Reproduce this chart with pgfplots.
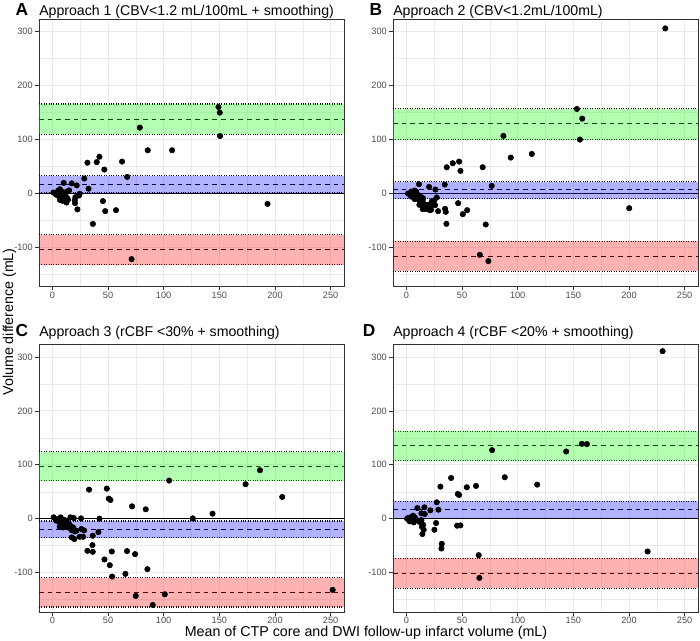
\documentclass[border=0pt]{standalone}
\usepackage{pgfplots}
\pgfplotsset{compat=1.18}
\usepackage{fontspec}
\setmainfont{Liberation Sans}
\definecolor{gridc}{HTML}{EBEBEB}
\definecolor{borderc}{HTML}{333333}
\definecolor{tickc}{HTML}{4D4D4D}
\tikzset{
  zl/.style={black,line width=0.55pt},
  dl/.style={black,line width=0.55pt,dash pattern=on 3.5pt off 3pt},
  dt/.style={black,line width=0.8pt,dash pattern=on 0.75pt off 1.05pt}
}
\pgfplotsset{panel/.style={
  scale only axis, width=228.75pt, height=200.625pt, anchor=south west,
  xmin=-12, xmax=262, ymin=-173, ymax=323,
  xtick={0,50,100,150,200,250}, ytick={-100,0,100,200,300},
  minor xtick={25,75,125,175,225}, minor ytick={-150,-50,50,150,250},
  grid=both,
  major grid style={draw=gridc, line width=0.6pt},
  minor grid style={draw=gridc, line width=0.35pt},
  axis line style={draw=borderc, line width=0.5pt},
  tick align=outside, xtick pos=bottom, ytick pos=left,
  major tick length=3pt, minor tick length=0pt,
  tick style={draw=borderc, line width=0.5pt},
  every tick label/.append style={font=\fontsize{6.9}{8}\selectfont, text=tickc},
  /pgf/number format/assume math mode=true,
  xticklabel style={inner sep=0.8pt}, yticklabel style={inner sep=1.5pt},
}}
\newcommand{\hl}[2]{\addplot[#1] coordinates {(-12,#2) (262,#2)};}
\newcommand{\band}[3]{\addplot[draw=none, fill=#1, fill opacity=0.3] coordinates {(-12,#2) (262,#2) (262,#3) (-12,#3)};}
\newcommand{\lines}[9]{%
  \hl{zl}{0}%
  \hl{dl}{#3}\hl{dt}{#1}\hl{dt}{#2}%
  \hl{dl}{#6}\hl{dt}{#4}\hl{dt}{#5}%
  \hl{dl}{#9}\hl{dt}{#7}\hl{dt}{#8}}
\newcommand{\bands}[6]{\band{green}{#1}{#2}\band{blue}{#3}{#4}\band{red}{#5}{#6}}
\tikzset{pts/.style={only marks, mark=*, mark size=2.05pt, black}}
\begin{document}
\begin{tikzpicture}
\useasboundingbox (0,0) rectangle (525pt,480pt);
% ---------------- A
\begin{axis}[panel, at={(29.25pt,265.125pt)}]
\lines{109.3}{165.4}{137.7}{0.5}{32.7}{16.7}{-132.7}{-77.2}{-104.3}
\addplot[pts] coordinates {
(149.2,159.9) (150.4,149.4) (150.7,106) (78.6,121.6) (85.7,79.6) (107.6,79.6)
(42.3,67.6) (31.5,56.5) (39.9,57.7) (62.6,58.6) (46.7,43.8) (67.2,30.2)
(28.7,27.2) (10.2,19.1) (17.4,18.2) (21.9,14.5) (32.5,8.3) (15.0,5.2)
(6.8,7.4) (5.3,4.9) (8.3,3.1) (0.9,1.2) (2.4,0) (3.8,-3.1) (9.8,-3.1)
(11.2,-6.2) (6.8,-12.3) (9.2,-14.2) (12.7,-17.3) (13.3,-9.3) (20.7,-7.4)
(23.9,-4.3) (24.5,-1.2) (20.1,-13) (20.4,-18.5) (22.5,-30) (45.4,-14.6)
(47.5,-33.3) (57.2,-31.5) (36.4,-57) (71.2,-122.2) (193.3,-19.8)
(3,-1.5) (4.5,2) (7.5,-8) (10.5,-10) (12,-5) (14,-12) (5.5,-5) (8,-1) (11.5,0.5) (13,3)
};
\bands{109.3}{165.4}{0.5}{32.7}{-132.7}{-77.2}
\end{axis}
% ---------------- B
\begin{axis}[panel, at={(294.75pt,265.125pt)}]
\lines{99.4}{156.8}{129}{-10.5}{21.6}{6.2}{-145}{-88.9}{-116.7}
\addplot[pts] coordinates {
(232.6,305.6) (153.2,156.2) (158,138.3) (155.9,99.4) (87.2,106.2) (93.8,66)
(112.7,72.8) (36.3,48.1) (41.7,55.6) (47.4,58.6) (48.6,41.4) (68.6,48.1)
(76.7,13.6) (11.4,16.7) (34.5,16) (20.4,11.7) (26.1,6.8) (27.3,-8) (25.2,-13)
(25.8,-22.2) (21.3,-31.5) (28.5,-33.3) (34.8,-29) (35.4,-34.6) (36,-56.8)
(46.5,-18.5) (50.7,-38.9) (54.6,-31.5) (71.3,-58) (66,-114.2) (73.7,-125.9)
(200.2,-27.8)
(1.5,-0.6) (2.7,-0.6) (4.5,3) (5.7,1.2) (7.5,4.9) (8.7,3.1) (9,1.2) (4.2,-6.2)
(5.4,-6.2) (7.2,-6.2) (7.5,-11.1) (10.2,-3.1) (11.7,-9.3) (12,-14.8) (13.5,-11)
(14.7,-12.3) (13.2,-18.5) (15.6,-19.8) (16.2,-21.6) (17.7,-24.7) (18,-23.5)
(19.2,-21.6) (19.5,-28.4) (20.7,-27.8) (17.7,-29.6) (22.2,-30.9) (23.7,-21.6)
(22.8,-15.4) (14.7,-29.6) (11.7,-21.6) (16.5,-27.8) (12.6,-6.2) (15,-9.3)
};
\bands{99.4}{156.8}{-10.5}{21.6}{-145}{-88.9}
\end{axis}
% ---------------- C
\begin{axis}[panel, at={(29.25pt,21pt)}]
\lines{70.7}{124}{97.3}{-35.3}{-4.3}{-19.2}{-163.7}{-109.7}{-136.4}
\addplot[pts] coordinates {
(186.5,89.9) (173.6,63.9) (206.5,40.3) (104.9,70.7) (143.9,9.3) (126.2,0.6)
(83.9,17.4) (71.6,22.9) (33,53.9) (48.9,55.8) (50.7,37.2) (52.2,34.7) (42.3,0)
(25.8,0.6) (16.2,2.5) (19.2,1.2) (7.5,2.5) (1.2,2.5) (28.5,-21.7) (41.4,-24.8)
(36.3,-31.6) (36,-49) (36.3,-61.4) (31.5,-59.5) (53.4,-60.8) (67.1,-60.1)
(74.3,-65.7) (46.8,-75.6) (51.6,-86.2) (53.7,-107.3) (65.6,-102.3) (85.4,-93.6)
(74.9,-143.2) (101,-140.1) (90.2,-160) (251.8,-132)
(3.6,-3.7) (6.6,-6.8) (8.1,-11.8) (9.6,-6.8) (11.1,-13) (12.6,-9.9) (14.1,-16.1)
(15.6,-11.2) (17.1,-21.1) (18.6,-16.1) (20.1,-23.6) (21.6,-22.3) (17.4,-34.7)
(19.8,-37.8) (24.6,-33.5) (27.6,-33.5) (26.1,-19.2) (9.6,-16.1) (6.6,-14.9)
(4.5,-1) (10.5,-2) (13,-5)
};
\bands{70.7}{124}{-35.3}{-4.3}{-163.7}{-109.7}
\end{axis}
% ---------------- D
\begin{axis}[panel, at={(294.75pt,21pt)}]
\lines{107.9}{161.8}{135.2}{1.2}{32.2}{17.4}{-129}{-73.2}{-101}
\addplot[pts] coordinates {
(230.2,310.6) (157.7,138.9) (162.2,138.3) (143.6,124.6) (77,127.1) (88.4,76.9)
(117.5,63.2) (40.2,75.5) (30.6,59.5) (54.3,58.3) (62.6,60.8) (46.2,45.9)
(47.4,44) (27.3,30.4) (28.8,16.7) (21.6,15.5) (16.2,21.1) (9.9,19.8) (16.5,8.7)
(13.5,9.9) (26.7,-8.1) (25.2,-20.5) (15.6,-20.5) (15,-11.2) (14.4,-28.5)
(31.8,-46.5) (31.5,-55.2) (45.6,-13) (48.6,-12.4) (65,-67.6) (65.6,-109.7)
(216.7,-60.8)
(0.6,0) (2.4,-1.9) (3.6,2.5) (4.8,-3.7) (6,5.6) (6.6,-6.8) (7.8,-1.2) (9,-2.5)
(10.5,-3.7) (12,-6.2) (4.5,1.2) (7.5,2.5) (3,-5) (13.5,-2.5) (14,-15) (1.5,1)
};
\bands{107.9}{161.8}{1.2}{32.2}{-129}{-73.2}
\end{axis}
% ---------------- titles
\node[anchor=base west, inner sep=0pt, font=\fontsize{13}{14}\selectfont\bfseries] at (11.5pt,468.4pt) {A};
\node[anchor=base west, inner sep=0pt, font=\fontsize{10.6}{12}\selectfont] at (29.25pt,468.4pt) {Approach 1 (CBV<1.2 mL/100mL + smoothing)};
\node[anchor=base west, inner sep=0pt, font=\fontsize{13}{14}\selectfont\bfseries] at (277pt,468.4pt) {B};
\node[anchor=base west, inner sep=0pt, font=\fontsize{10.6}{12}\selectfont] at (294.75pt,468.4pt) {Approach 2 (CBV<1.2mL/100mL)};
\node[anchor=base west, inner sep=0pt, font=\fontsize{13}{14}\selectfont\bfseries] at (11.5pt,227.25pt) {C};
\node[anchor=base west, inner sep=0pt, font=\fontsize{10.6}{12}\selectfont] at (29.25pt,227.25pt) {Approach 3 (rCBF <30\% + smoothing)};
\node[anchor=base west, inner sep=0pt, font=\fontsize{13}{14}\selectfont\bfseries] at (272pt,227.25pt) {D};
\node[anchor=base west, inner sep=0pt, font=\fontsize{10.6}{12}\selectfont] at (294.75pt,227.25pt) {Approach 4 (rCBF <20\% + smoothing)};
% ---------------- axis titles
\node[anchor=base, inner sep=0pt, font=\fontsize{10.7}{12}\selectfont] at (274.5pt,2.4pt) {Mean of CTP core and DWI follow-up infarct volume (mL)};
\node[anchor=base, inner sep=0pt, rotate=90, font=\fontsize{10.7}{12}\selectfont] at (9.75pt,238.5pt) {Volume difference (mL)};
\end{tikzpicture}
\end{document}
